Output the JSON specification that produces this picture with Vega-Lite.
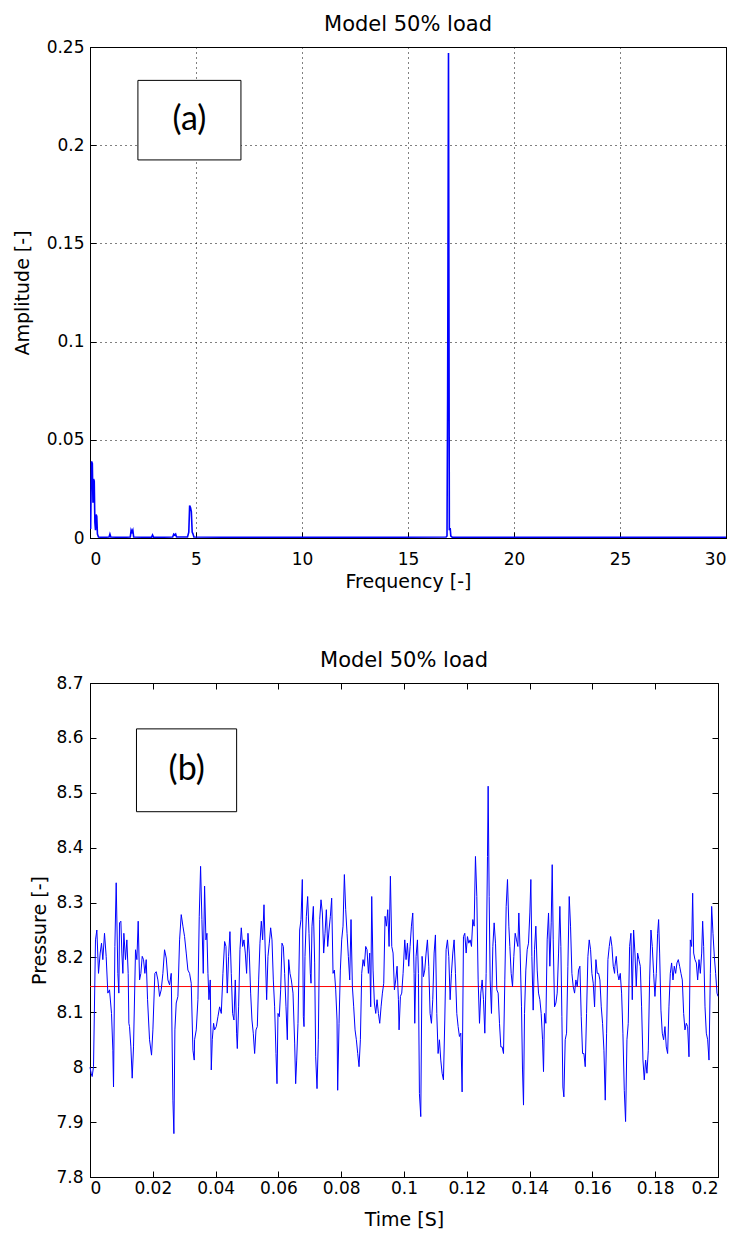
{
  "$schema": "https://vega.github.io/schema/vega-lite/v6.json",
  "background": "white",
  "padding": {"left": 12, "top": 13, "right": 5, "bottom": 2},
  "config": {
    "font": "DejaVu Sans",
    "view": {"stroke": "black", "strokeWidth": 1},
    "axis": {
      "labelFont": "DejaVu Sans", "labelFontSize": 17, "labelColor": "black",
      "titleFont": "DejaVu Sans", "titleFontSize": 19, "titleFontWeight": "normal", "titleColor": "black",
      "domainColor": "black", "tickColor": "black", "tickSize": -6, "labelPadding": 12, "grid": false
    },
    "title": {"font": "DejaVu Sans", "fontSize": 21, "fontWeight": "normal", "color": "black", "offset": 3, "baseline": "alphabetic"},
    "concat": {"spacing": 57}
  },
  "datasets": {
    "spectrum": [
      {"freq": 0, "amp": 0.005}, {"freq": 0.03, "amp": 0.005}, {"freq": 0.07, "amp": 0.039}, {"freq": 0.11, "amp": 0.038},
      {"freq": 0.14, "amp": 0.018}, {"freq": 0.17, "amp": 0.03}, {"freq": 0.2, "amp": 0.029}, {"freq": 0.23, "amp": 0.008},
      {"freq": 0.26, "amp": 0.004}, {"freq": 0.29, "amp": 0.012}, {"freq": 0.32, "amp": 0.011}, {"freq": 0.35, "amp": 0.002},
      {"freq": 0.4, "amp": 0.0005}, {"freq": 0.6, "amp": 0.0003}, {"freq": 0.9, "amp": 0.0005}, {"freq": 0.94, "amp": 0.002},
      {"freq": 0.98, "amp": 0.0005}, {"freq": 1.5, "amp": 0.0003}, {"freq": 1.9, "amp": 0.0005}, {"freq": 1.94, "amp": 0.004},
      {"freq": 1.98, "amp": 0.003}, {"freq": 2.02, "amp": 0.004}, {"freq": 2.06, "amp": 0.0005}, {"freq": 2.9, "amp": 0.0003},
      {"freq": 2.95, "amp": 0.0015}, {"freq": 3.0, "amp": 0.0003}, {"freq": 3.9, "amp": 0.0005}, {"freq": 3.95, "amp": 0.002},
      {"freq": 4.0, "amp": 0.0015}, {"freq": 4.04, "amp": 0.002}, {"freq": 4.08, "amp": 0.0005}, {"freq": 4.6, "amp": 0.0005},
      {"freq": 4.66, "amp": 0.003}, {"freq": 4.7, "amp": 0.0165}, {"freq": 4.74, "amp": 0.0155}, {"freq": 4.78, "amp": 0.0135},
      {"freq": 4.82, "amp": 0.003}, {"freq": 4.86, "amp": 0.002}, {"freq": 4.9, "amp": 0.0005}, {"freq": 8, "amp": 0.0003},
      {"freq": 12, "amp": 0.0003}, {"freq": 16.8, "amp": 0.0005}, {"freq": 16.84, "amp": 0.001}, {"freq": 16.87, "amp": 0.073},
      {"freq": 16.91, "amp": 0.247}, {"freq": 16.95, "amp": 0.004}, {"freq": 16.99, "amp": 0.005}, {"freq": 17.02, "amp": 0.001},
      {"freq": 17.1, "amp": 0.0003}, {"freq": 20, "amp": 0.0003}, {"freq": 25, "amp": 0.0003}, {"freq": 30, "amp": 0.0003}
    ],
    "boxA": [{"x1": 2.26, "x2": 7.12, "y1": 0.1925, "y2": 0.233, "tx": 4.69, "ty": 0.2128, "label": "(a)"}],
    "boxB": [{"x1": 0.0148, "x2": 0.0467, "y1": 8.4655, "y2": 8.6164, "tx": 0.0308, "ty": 8.541, "label": "(b)"}],
    "mean": [{"p": 8.147}],
    "pressure": [
      {"t":0,"p":8.0},{"t":0.00037,"p":7.989},{"t":0.00069,"p":7.983},{"t":0.00112,"p":8.001},{"t":0.00175,"p":8.232},{"t":0.00218,"p":8.25},{"t":0.00271,"p":8.171},{"t":0.00324,"p":8.208},{"t":0.00367,"p":8.226},{"t":0.00409,"p":8.196},{"t":0.00462,"p":8.244},{"t":0.00515,"p":8.202},{"t":0.00568,"p":8.135},{"t":0.00622,"p":8.141},{"t":0.00685,"p":8.098},{"t":0.00728,"p":8.031},{"t":0.00749,"p":7.964},{"t":0.00792,"p":8.22},{"t":0.00834,"p":8.336},{"t":0.00887,"p":8.171},{"t":0.00919,"p":8.135},{"t":0.0094,"p":8.263},{"t":0.00983,"p":8.266},{"t":0.01015,"p":8.208},{"t":0.01047,"p":8.171},{"t":0.01078,"p":8.244},{"t":0.01131,"p":8.196},{"t":0.01174,"p":8.232},{"t":0.01216,"p":8.171},{"t":0.01238,"p":8.08},{"t":0.01259,"p":8.074},{"t":0.01302,"p":8.037},{"t":0.01344,"p":7.98},{"t":0.01386,"p":8.037},{"t":0.0145,"p":8.214},{"t":0.01493,"p":8.196},{"t":0.01535,"p":8.266},{"t":0.01578,"p":8.159},{"t":0.0162,"p":8.171},{"t":0.01663,"p":8.202},{"t":0.01705,"p":8.196},{"t":0.01748,"p":8.171},{"t":0.0179,"p":8.196},{"t":0.01833,"p":8.123},{"t":0.01896,"p":8.05},{"t":0.0196,"p":8.022},{"t":0.02003,"p":8.068},{"t":0.02066,"p":8.171},{"t":0.02109,"p":8.174},{"t":0.02162,"p":8.159},{"t":0.02215,"p":8.129},{"t":0.02268,"p":8.141},{"t":0.02321,"p":8.171},{"t":0.02374,"p":8.214},{"t":0.02428,"p":8.199},{"t":0.02481,"p":8.159},{"t":0.02534,"p":8.15},{"t":0.02587,"p":8.171},{"t":0.0264,"p":7.94},{"t":0.02672,"p":7.879},{"t":0.02704,"p":8.068},{"t":0.02746,"p":8.117},{"t":0.028,"p":8.129},{"t":0.02853,"p":8.232},{"t":0.02906,"p":8.278},{"t":0.02959,"p":8.257},{"t":0.03012,"p":8.238},{"t":0.03065,"p":8.208},{"t":0.03118,"p":8.177},{"t":0.03171,"p":8.171},{"t":0.03224,"p":8.153},{"t":0.03278,"p":8.031},{"t":0.0332,"p":8.013},
      {"t":0.03331,"p":8.05},{"t":0.03384,"p":8.068},{"t":0.03437,"p":8.123},{"t":0.03479,"p":8.275},{"t":0.03522,"p":8.366},{"t":0.03564,"p":8.269},{"t":0.03607,"p":8.171},{"t":0.03649,"p":8.33},{"t":0.03692,"p":8.232},{"t":0.03724,"p":8.244},{"t":0.03756,"p":8.171},{"t":0.03788,"p":8.123},{"t":0.0383,"p":8.159},{"t":0.03862,"p":7.995},{"t":0.03894,"p":8.05},{"t":0.03936,"p":8.08},{"t":0.03968,"p":8.068},{"t":0.04021,"p":8.074},{"t":0.04074,"p":8.092},{"t":0.04128,"p":8.11},{"t":0.04181,"p":8.098},{"t":0.04234,"p":8.171},{"t":0.04287,"p":8.229},{"t":0.0433,"p":8.22},{"t":0.04372,"p":8.135},{"t":0.04414,"p":8.202},{"t":0.04457,"p":8.247},{"t":0.04499,"p":8.171},{"t":0.04542,"p":8.098},{"t":0.04584,"p":8.086},{"t":0.04627,"p":8.159},{"t":0.04669,"p":8.062},{"t":0.04691,"p":8.034},{"t":0.04733,"p":8.11},{"t":0.04776,"p":8.214},{"t":0.04818,"p":8.254},{"t":0.04861,"p":8.22},{"t":0.04903,"p":8.232},{"t":0.04946,"p":8.208},{"t":0.04988,"p":8.171},{"t":0.05031,"p":8.244},{"t":0.05073,"p":8.208},{"t":0.05116,"p":8.135},{"t":0.05158,"p":8.086},{"t":0.052,"p":8.062},{"t":0.05243,"p":8.025},{"t":0.05286,"p":8.068},{"t":0.05328,"p":8.074},{"t":0.05371,"p":8.159},{"t":0.05413,"p":8.226},{"t":0.05456,"p":8.266},{"t":0.05498,"p":8.232},{"t":0.05541,"p":8.296},{"t":0.05583,"p":8.208},{"t":0.05626,"p":8.123},{"t":0.05668,"p":8.202},{"t":0.0571,"p":8.226},{"t":0.05753,"p":8.254},{"t":0.05796,"p":8.232},{"t":0.05838,"p":8.159},{"t":0.0588,"p":8.11},{"t":0.05923,"p":8.025},{"t":0.05955,"p":7.97},{"t":0.05987,"p":8.098},{"t":0.06029,"p":8.092},{"t":0.06072,"p":8.141},{"t":0.06114,"p":8.226},{"t":0.06157,"p":8.22},{"t":0.06199,"p":8.171},{"t":0.06242,"p":8.11},{"t":0.06284,"p":8.05},{"t":0.06327,"p":8.196},{"t":0.06369,"p":8.171},{"t":0.06412,"p":8.159},{"t":0.06465,"p":8.135},{"t":0.06518,"p":8.044},{"t":0.0655,"p":7.97},{"t":0.06582,"p":8.013},{"t":0.06624,"p":8.08},
      {"t":0.06677,"p":8.25},{"t":0.0672,"p":8.269},{"t":0.06762,"p":8.342},{"t":0.06794,"p":8.092},{"t":0.06816,"p":8.074},{"t":0.06847,"p":8.202},{"t":0.0689,"p":8.275},{"t":0.06932,"p":8.311},{"t":0.06975,"p":8.244},{"t":0.07017,"p":8.171},{"t":0.07039,"p":8.153},{"t":0.0707,"p":8.257},{"t":0.07113,"p":8.293},{"t":0.07155,"p":8.19},{"t":0.07187,"p":8.019},{"t":0.0723,"p":7.961},{"t":0.07272,"p":8.05},{"t":0.07315,"p":8.269},{"t":0.07357,"p":8.305},{"t":0.074,"p":8.281},{"t":0.07442,"p":8.208},{"t":0.07485,"p":8.244},{"t":0.07527,"p":8.287},{"t":0.0757,"p":8.22},{"t":0.07612,"p":8.25},{"t":0.07655,"p":8.275},{"t":0.07697,"p":8.308},{"t":0.0774,"p":8.171},{"t":0.07782,"p":8.177},{"t":0.07825,"p":8.141},{"t":0.07867,"p":8.086},{"t":0.07888,"p":7.958},{"t":0.07931,"p":8.08},{"t":0.07973,"p":8.177},{"t":0.08016,"p":8.232},{"t":0.08058,"p":8.257},{"t":0.08101,"p":8.351},{"t":0.08143,"p":8.287},{"t":0.08186,"p":8.244},{"t":0.08228,"p":8.202},{"t":0.08271,"p":8.159},{"t":0.08313,"p":8.269},{"t":0.08356,"p":8.147},{"t":0.08398,"p":8.11},{"t":0.08441,"p":8.068},{"t":0.08483,"p":8.05},{"t":0.08526,"p":8.025},{"t":0.08568,"p":8.001},{"t":0.08611,"p":8.05},{"t":0.08653,"p":8.171},{"t":0.08696,"p":8.196},{"t":0.08738,"p":8.184},{"t":0.08781,"p":8.22},{"t":0.08823,"p":8.214},{"t":0.08866,"p":8.171},{"t":0.08908,"p":8.208},{"t":0.0894,"p":8.11},{"t":0.08972,"p":8.311},{"t":0.09015,"p":8.177},{"t":0.09057,"p":8.117},{"t":0.091,"p":8.098},{"t":0.09142,"p":8.123},{"t":0.09185,"p":8.098},{"t":0.09227,"p":8.08},{"t":0.0927,"p":8.11},{"t":0.09312,"p":8.135},{"t":0.09355,"p":8.153},{"t":0.09397,"p":8.275},{"t":0.0944,"p":8.257},{"t":0.09482,"p":8.287},{"t":0.09525,"p":8.22},{"t":0.09567,"p":8.348},{"t":0.0961,"p":8.22},{"t":0.09652,"p":8.208},{"t":0.09695,"p":8.141},{"t":0.09737,"p":8.159},{"t":0.0978,"p":8.184},{"t":0.09822,"p":8.123},{"t":0.09843,"p":8.068},{"t":0.09886,"p":8.129},{"t":0.09928,"p":8.135},{"t":0.09971,"p":8.171},
      {"t":0.10024,"p":8.232},{"t":0.10066,"p":8.196},{"t":0.10109,"p":8.226},{"t":0.10151,"p":8.184},{"t":0.10194,"p":8.22},{"t":0.10236,"p":8.257},{"t":0.10279,"p":8.281},{"t":0.10321,"p":8.171},{"t":0.10343,"p":8.08},{"t":0.10385,"p":8.202},{"t":0.10428,"p":8.232},{"t":0.10459,"p":8.171},{"t":0.10491,"p":7.952},{"t":0.10534,"p":7.91},{"t":0.10576,"p":8.202},{"t":0.10619,"p":8.165},{"t":0.10661,"p":8.177},{"t":0.10704,"p":8.208},{"t":0.10746,"p":8.232},{"t":0.10789,"p":8.184},{"t":0.10831,"p":8.098},{"t":0.10874,"p":8.08},{"t":0.10916,"p":8.123},{"t":0.10959,"p":8.208},{"t":0.11001,"p":8.241},{"t":0.11044,"p":8.098},{"t":0.11086,"p":8.025},{"t":0.11129,"p":8.05},{"t":0.11171,"p":8.013},{"t":0.11214,"p":7.989},{"t":0.11256,"p":7.977},{"t":0.11299,"p":8.086},{"t":0.11341,"p":8.214},{"t":0.11384,"p":8.232},{"t":0.11426,"p":8.202},{"t":0.11469,"p":8.123},{"t":0.11511,"p":8.171},{"t":0.11554,"p":8.208},{"t":0.11596,"p":8.232},{"t":0.11639,"p":8.171},{"t":0.11681,"p":8.098},{"t":0.11724,"p":8.074},{"t":0.11766,"p":8.056},{"t":0.11809,"p":8.062},{"t":0.11851,"p":7.955},{"t":0.11894,"p":8.238},{"t":0.11936,"p":8.244},{"t":0.11979,"p":8.208},{"t":0.12021,"p":8.238},{"t":0.12064,"p":8.226},{"t":0.12106,"p":8.232},{"t":0.12149,"p":8.22},{"t":0.12191,"p":8.269},{"t":0.12234,"p":8.257},{"t":0.12276,"p":8.384},{"t":0.12319,"p":8.311},{"t":0.12361,"p":8.159},{"t":0.12404,"p":8.08},{"t":0.12446,"p":8.135},{"t":0.12489,"p":8.159},{"t":0.12531,"p":8.123},{"t":0.12574,"p":8.062},{"t":0.12616,"p":8.171},{"t":0.12659,"p":8.384},{"t":0.1268,"p":8.512},{"t":0.12712,"p":8.311},{"t":0.12744,"p":8.159},{"t":0.12786,"p":8.098},{"t":0.12829,"p":8.22},{"t":0.12871,"p":8.263},{"t":0.12914,"p":8.226},{"t":0.12956,"p":8.141},{"t":0.12999,"p":8.135},{"t":0.13041,"p":8.08},{"t":0.13084,"p":8.037},{"t":0.13126,"p":8.037},{"t":0.13169,"p":8.025},{"t":0.13211,"p":8.159},{"t":0.13254,"p":8.293},{"t":0.13296,"p":8.342},{"t":0.13339,"p":8.257},
      {"t":0.13371,"p":8.22},{"t":0.13413,"p":8.171},{"t":0.13456,"p":8.147},{"t":0.13498,"p":8.202},{"t":0.13541,"p":8.244},{"t":0.13583,"p":8.232},{"t":0.13626,"p":8.22},{"t":0.13657,"p":8.281},{"t":0.137,"p":8.208},{"t":0.13742,"p":8.11},{"t":0.13774,"p":7.995},{"t":0.13806,"p":7.931},{"t":0.13838,"p":8.098},{"t":0.1388,"p":8.177},{"t":0.13923,"p":8.214},{"t":0.13965,"p":8.226},{"t":0.14008,"p":8.281},{"t":0.1404,"p":8.342},{"t":0.14072,"p":8.202},{"t":0.14114,"p":8.104},{"t":0.14157,"p":8.214},{"t":0.14199,"p":8.257},{"t":0.14242,"p":8.177},{"t":0.14284,"p":8.135},{"t":0.14327,"p":8.123},{"t":0.14369,"p":8.098},{"t":0.14412,"p":8.05},{"t":0.14443,"p":7.992},{"t":0.14475,"p":8.098},{"t":0.14518,"p":8.08},{"t":0.1456,"p":8.232},{"t":0.14603,"p":8.281},{"t":0.14645,"p":8.184},{"t":0.14688,"p":8.263},{"t":0.1472,"p":8.369},{"t":0.14752,"p":8.232},{"t":0.14794,"p":8.11},{"t":0.14837,"p":8.117},{"t":0.14879,"p":8.135},{"t":0.14922,"p":8.208},{"t":0.14964,"p":8.293},{"t":0.14996,"p":8.22},{"t":0.15028,"p":8.092},{"t":0.1506,"p":7.964},{"t":0.15092,"p":7.946},{"t":0.15134,"p":8.05},{"t":0.15177,"p":8.062},{"t":0.15219,"p":8.184},{"t":0.15262,"p":8.311},{"t":0.15304,"p":8.257},{"t":0.15347,"p":8.171},{"t":0.15389,"p":8.147},{"t":0.15432,"p":8.135},{"t":0.15474,"p":8.159},{"t":0.15517,"p":8.147},{"t":0.15559,"p":8.177},{"t":0.15602,"p":8.184},{"t":0.15644,"p":8.092},{"t":0.15687,"p":8.025},{"t":0.15729,"p":8.025},{"t":0.15772,"p":8.001},{"t":0.15814,"p":8.098},{"t":0.15857,"p":8.202},{"t":0.15899,"p":8.232},{"t":0.15942,"p":8.214},{"t":0.15984,"p":8.171},{"t":0.16027,"p":8.153},{"t":0.16069,"p":8.11},{"t":0.16112,"p":8.196},{"t":0.16154,"p":8.171},{"t":0.16197,"p":8.171},{"t":0.16239,"p":8.159},{"t":0.16282,"p":8.11},{"t":0.16324,"p":8.08},{"t":0.16367,"p":8.031},{"t":0.16409,"p":7.94},{"t":0.16452,"p":8.062},{"t":0.16494,"p":8.196},{"t":0.16537,"p":8.22},{"t":0.16579,"p":8.238},{"t":0.16622,"p":8.22},{"t":0.16664,"p":8.184},{"t":0.16707,"p":8.171},
      {"t":0.16717,"p":8.184},{"t":0.1676,"p":8.202},{"t":0.16802,"p":8.171},{"t":0.16845,"p":8.159},{"t":0.16887,"p":8.171},{"t":0.1693,"p":8.135},{"t":0.16972,"p":8.062},{"t":0.17015,"p":7.958},{"t":0.17057,"p":7.901},{"t":0.171,"p":8.05},{"t":0.17142,"p":8.08},{"t":0.17185,"p":8.22},{"t":0.17227,"p":8.244},{"t":0.1727,"p":8.123},{"t":0.17312,"p":8.25},{"t":0.17355,"p":8.208},{"t":0.17397,"p":8.147},{"t":0.1744,"p":8.208},{"t":0.17482,"p":8.196},{"t":0.17525,"p":8.184},{"t":0.17567,"p":8.11},{"t":0.1761,"p":8.013},{"t":0.17652,"p":7.977},{"t":0.17695,"p":8.013},{"t":0.17737,"p":7.989},{"t":0.1778,"p":8.031},{"t":0.17822,"p":8.159},{"t":0.17865,"p":8.25},{"t":0.17907,"p":8.22},{"t":0.1795,"p":8.171},{"t":0.17992,"p":8.129},{"t":0.18035,"p":8.171},{"t":0.18077,"p":8.244},{"t":0.18109,"p":8.269},{"t":0.18141,"p":8.208},{"t":0.18183,"p":8.104},{"t":0.18226,"p":8.062},{"t":0.18268,"p":8.05},{"t":0.18311,"p":8.074},{"t":0.18353,"p":8.037},{"t":0.18396,"p":8.025},{"t":0.18438,"p":8.11},{"t":0.18481,"p":8.171},{"t":0.18523,"p":8.19},{"t":0.18566,"p":8.159},{"t":0.18608,"p":8.184},{"t":0.18651,"p":8.171},{"t":0.18693,"p":8.19},{"t":0.18736,"p":8.196},{"t":0.18778,"p":8.184},{"t":0.18821,"p":8.171},{"t":0.18863,"p":8.159},{"t":0.18906,"p":8.098},{"t":0.18948,"p":8.068},{"t":0.18991,"p":8.08},{"t":0.19033,"p":8.074},{"t":0.19076,"p":8.019},{"t":0.19118,"p":8.232},{"t":0.19161,"p":8.22},{"t":0.19193,"p":8.317},{"t":0.19225,"p":8.208},{"t":0.19267,"p":8.196},{"t":0.1931,"p":8.19},{"t":0.19352,"p":8.159},{"t":0.19395,"p":8.196},{"t":0.19437,"p":8.171},{"t":0.1948,"p":8.208},{"t":0.19511,"p":8.266},{"t":0.19543,"p":8.22},{"t":0.19586,"p":8.11},{"t":0.19628,"p":8.062},{"t":0.19671,"p":8.05},{"t":0.19713,"p":8.013},{"t":0.19756,"p":8.171},{"t":0.19798,"p":8.293},{"t":0.1984,"p":8.244},{"t":0.19883,"p":8.202},{"t":0.19925,"p":8.171},{"t":0.19968,"p":8.135},{"t":0.2,"p":8.129}
    ]
  },
  "vconcat": [
    {
      "width": 636,
      "height": 491,
      "title": {"text": "Model 50% load"},
      "layer": [
        {
          "data": {"name": "spectrum"},
          "mark": {"type": "line", "color": "#0000ff", "strokeWidth": 1.6, "clip": true},
          "encoding": {
            "x": {"field": "freq", "type": "quantitative", "scale": {"domain": [0, 30], "nice": false},
                  "axis": {"title": "Frequency [-]", "values": [0, 5, 10, 15, 20, 25, 30], "format": "~g", "grid": true, "gridColor": "black", "gridOpacity": 1, "gridDash": [1, 4], "labelPadding": 19, "titlePadding": 5}},
            "y": {"field": "amp", "type": "quantitative", "scale": {"domain": [0, 0.25], "nice": false},
                  "axis": {"title": "Amplitude [-]", "values": [0, 0.05, 0.1, 0.15, 0.2, 0.25], "format": "~g", "grid": true, "gridColor": "black", "gridOpacity": 1, "gridDash": [1, 4], "labelPadding": 12, "titlePadding": 14}}
          }
        },
        {
          "data": {"name": "boxA"},
          "mark": {"type": "rect", "fill": "white", "stroke": "black", "strokeWidth": 1},
          "encoding": {
            "x": {"field": "x1", "type": "quantitative", "title": "Frequency [-]"},
            "x2": {"field": "x2"},
            "y": {"field": "y1", "type": "quantitative", "title": "Amplitude [-]"},
            "y2": {"field": "y2"}
          }
        },
        {
          "data": {"name": "boxA"},
          "mark": {"type": "text", "font": "Lato", "fontSize": 34, "align": "center", "baseline": "middle", "color": "black"},
          "encoding": {
            "x": {"field": "tx", "type": "quantitative", "title": "Frequency [-]"},
            "y": {"field": "ty", "type": "quantitative", "title": "Amplitude [-]"},
            "text": {"field": "label"}
          }
        }
      ]
    },
    {
      "width": 628,
      "height": 494,
      "title": {"text": "Model 50% load"},
      "layer": [
        {
          "data": {"name": "mean"},
          "mark": {"type": "rule", "color": "#ff0000", "strokeWidth": 1},
          "encoding": {
            "y": {"field": "p", "type": "quantitative", "scale": {"domain": [7.8, 8.7], "nice": false, "zero": false},
                  "axis": {"orient": "right", "labels": false, "title": null, "domain": false, "grid": false, "values": [7.8, 7.9, 8, 8.1, 8.2, 8.3, 8.4, 8.5, 8.6, 8.7]}}
          }
        },
        {
          "data": {"name": "pressure"},
          "mark": {"type": "line", "color": "#0000ff", "strokeWidth": 1},
          "encoding": {
            "x": {"field": "t", "type": "quantitative", "scale": {"domain": [0, 0.2], "nice": false},
                  "axis": {"title": "Time [S]", "values": [0, 0.02, 0.04, 0.06, 0.08, 0.1, 0.12, 0.14, 0.16, 0.18, 0.2], "format": "~g", "grid": false, "labelPadding": 9, "titlePadding": 14}},
            "y": {"field": "p", "type": "quantitative", "scale": {"domain": [7.8, 8.7], "nice": false, "zero": false},
                  "axis": {"title": "Pressure [-]", "values": [7.8, 7.9, 8, 8.1, 8.2, 8.3, 8.4, 8.5, 8.6, 8.7], "format": "~g", "grid": false, "labelPadding": 13, "titlePadding": 6}}
          }
        },
        {
          "data": {"name": "boxB"},
          "mark": {"type": "rect", "fill": "white", "stroke": "black", "strokeWidth": 1},
          "encoding": {
            "x": {"field": "x1", "type": "quantitative",
                  "axis": {"orient": "top", "labels": false, "title": null, "domain": false, "grid": false, "values": [0, 0.02, 0.04, 0.06, 0.08, 0.1, 0.12, 0.14, 0.16, 0.18, 0.2]}},
            "x2": {"field": "x2"},
            "y": {"field": "y1", "type": "quantitative", "axis": null},
            "y2": {"field": "y2"}
          }
        },
        {
          "data": {"name": "boxB"},
          "mark": {"type": "text", "font": "Lato", "fontSize": 34, "align": "center", "baseline": "middle", "color": "black"},
          "encoding": {
            "x": {"field": "tx", "type": "quantitative", "axis": null},
            "y": {"field": "ty", "type": "quantitative", "axis": null},
            "text": {"field": "label"}
          }
        }
      ],
      "resolve": {"axis": {"x": "independent", "y": "independent"}}
    }
  ]
}
